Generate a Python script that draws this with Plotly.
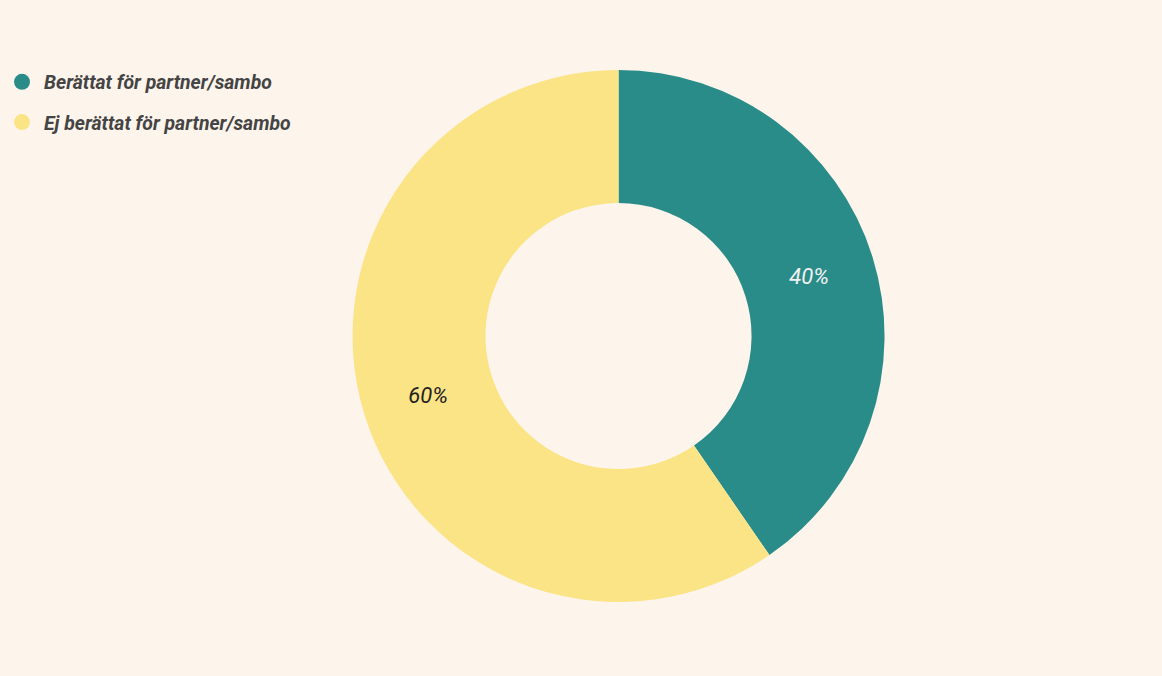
import plotly.graph_objects as go

categories = ["Berättat för partner/sambo", "Ej berättat för partner/sambo"]
values = [40.4, 59.6]
colors = ["#2A8C89", "#FBE486"]
label_colors = ["#F2F2F2", "#222222"]

BG = "#FDF5EC"

fig = go.Figure()

fig.add_trace(go.Pie(
    labels=categories,
    values=values,
    hole=0.5,
    sort=False,
    direction="clockwise",
    rotation=0,
    marker=dict(colors=colors, line=dict(width=0)),
    textinfo="percent",
    texttemplate="%{percent:.0%}",
    textposition="inside",
    insidetextorientation="horizontal",
    textfont=dict(family="Roboto", size=22, color=label_colors, style="italic"),
    showlegend=False,
    domain=dict(x=[0.2, 0.8646], y=[0, 1]),
    hoverinfo="label+percent",
))

for i, (name, col) in enumerate(zip(categories, colors)):
    fig.add_trace(go.Scatter(
        x=[None], y=[None], mode="markers", name=name,
        marker=dict(color=col, size=18, symbol="circle"),
        legendgroup=f"g{i}", showlegend=True,
    ))

fig.update_layout(
    width=1162, height=676,
    paper_bgcolor=BG, plot_bgcolor=BG,
    margin=dict(l=0, r=0, t=70, b=74, autoexpand=False),
    xaxis=dict(visible=False), yaxis=dict(visible=False),
    legend=dict(
        x=0, xanchor="left", y=1.0136, yanchor="top", yref="paper",
        orientation="v", tracegroupgap=12, itemwidth=34,
        font=dict(family="Roboto", size=19.4, color="#444444", weight="bold", style="italic"),
        bgcolor="rgba(0,0,0,0)", itemclick=False, itemdoubleclick=False,
    ),
)

fig.write_html(
    "out.html",
    config={"displayModeBar": False},
    post_script="document.body.style.margin='0';",
)
